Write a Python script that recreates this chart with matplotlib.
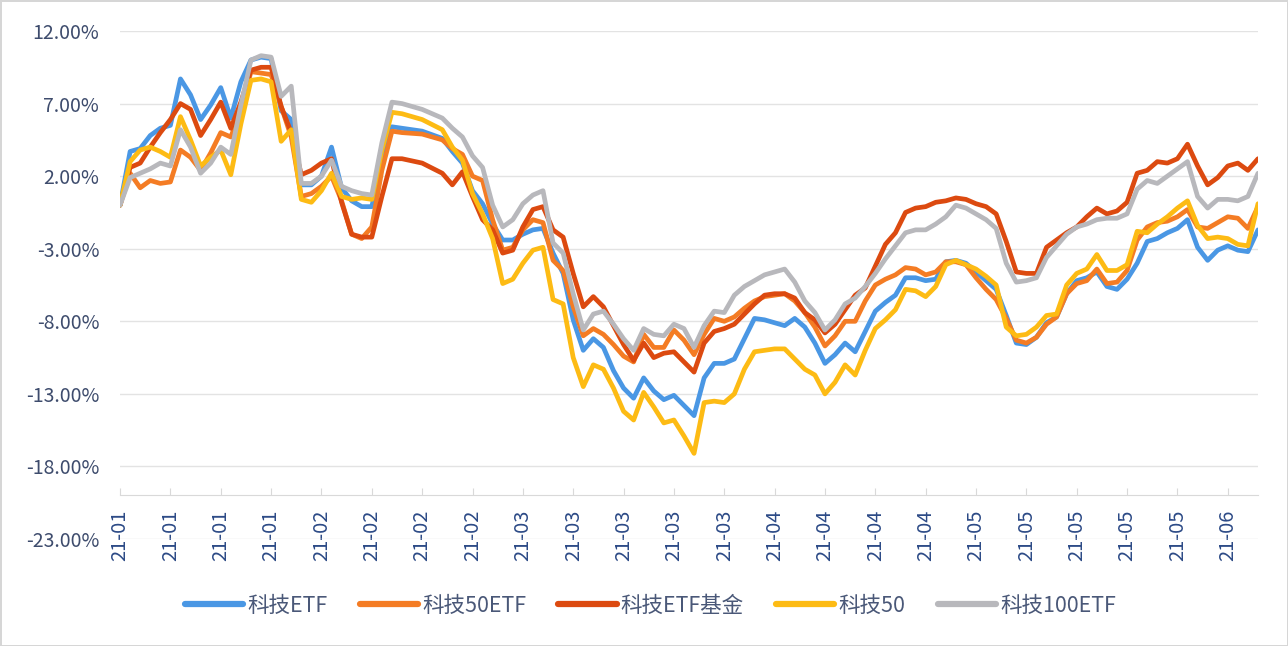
import numpy as np
import matplotlib
matplotlib.use("Agg")
import matplotlib.pyplot as plt

plt.rcParams['font.family'] = ['Noto Sans CJK SC', 'DejaVu Sans']

# trading-day index of each reading
days = list(range(0, 29)) + [30, 32] + list(range(33, 114))

# cumulative return (%)
keji_etf = [0, 3.7, 3.9, 4.8, 5.3, 5.5, 8.7, 7.6, 5.9, 6.9, 8.1, 6.0, 8.5, 10.0, 10.2, 10.1, 6.5, 5.9,
            1.4, 1.4, 2.0, 4.0, 1.2, 0.3, -0.1, -0.1, 2.9, 5.4, 5.3, 5.1, 4.6, 3.7, 2.9, 1.0, 0.1,
            -1.3, -2.4, -2.4, -2.0, -1.7, -1.6, -3.3, -4.7, -7.9, -10.0, -9.2, -9.8, -11.4, -12.6,
            -13.3, -11.9, -12.8, -13.4, -13.1, -13.8, -14.5, -11.9, -10.9, -10.9, -10.6, -9.2, -7.8,
            -7.9, -8.1, -8.3, -7.8, -8.4, -9.5, -10.9, -10.3, -9.5, -10.1, -8.7, -7.3, -6.7, -6.2,
            -5.0, -5.0, -5.2, -5.1, -3.9, -3.8, -4.0, -4.6, -5.2, -5.8, -7.6, -9.5, -9.6, -9.1, -8.1,
            -7.7, -6.1, -5.2, -5.0, -4.6, -5.6, -5.8, -5.1, -4.0, -2.5, -2.3, -1.9, -1.6, -1.0, -2.9,
            -3.8, -3.1, -2.8, -3.1, -3.2, -1.7]
keji50_etf = [0, 2.2, 1.2, 1.7, 1.5, 1.6, 3.8, 3.3, 2.4, 3.6, 5.0, 4.7, 6.5, 9.2, 9.1, 9.0, 6.8, 4.7,
              0.6, 0.8, 1.3, 2.0, 0.3, -2.0, -2.3, -1.5, 2.4, 5.1, 5.0, 4.9, 4.5, 3.9, 3.5, 2.0, 1.7,
              -1.0, -3.1, -2.9, -1.7, -1.0, -1.2, -3.8, -4.5, -7.0, -9.0, -8.5, -8.9, -9.6, -10.4,
              -10.8, -8.9, -9.8, -9.8, -8.6, -9.3, -10.3, -8.9, -7.8, -8.0, -7.7, -7.1, -6.6, -6.3,
              -6.2, -6.1, -6.6, -7.4, -8.4, -9.7, -9.0, -8.0, -8.0, -6.6, -5.5, -5.1, -4.8, -4.3,
              -4.4, -4.8, -4.6, -3.9, -3.9, -4.1, -5.0, -5.8, -6.5, -7.8, -9.3, -9.5, -9.1, -8.2,
              -7.7, -6.1, -5.4, -5.2, -4.4, -5.4, -5.3, -4.5, -2.4, -1.5, -1.2, -1.1, -0.8, -0.3,
              -1.5, -1.6, -1.2, -0.8, -0.9, -1.6, -0.1]
keji_etf_fund = [0, 2.6, 2.9, 4.0, 5.0, 5.9, 7.0, 6.6, 4.8, 5.9, 7.1, 5.3, 7.1, 9.3, 9.5, 9.5, 6.8, 5.0,
                 2.1, 2.4, 2.9, 3.2, 0.2, -2.0, -2.2, -2.2, 0.6, 3.2, 3.2, 2.9, 2.2, 1.4, 2.3, 0.6,
                 -1.0, -1.7, -3.3, -3.1, -1.5, -0.3, -0.1, -1.7, -2.2, -4.7, -7.0, -6.3, -7.0, -8.3,
                 -9.6, -10.7, -9.5, -10.5, -10.2, -10.1, -10.8, -11.5, -9.5, -8.7, -8.5, -8.2, -7.5,
                 -6.8, -6.2, -6.1, -6.1, -6.4, -7.4, -7.9, -8.8, -8.2, -7.2, -6.2, -5.7, -4.2, -2.7,
                 -1.9, -0.5, -0.2, -0.1, 0.2, 0.3, 0.5, 0.4, 0.1, -0.1, -0.6, -2.5, -4.6, -4.7, -4.7,
                 -2.9, -2.4, -1.9, -1.5, -0.8, -0.2, -0.6, -0.4, 0.2, 2.2, 2.4, 3.0, 2.9, 3.2, 4.2,
                 2.7, 1.4, 1.9, 2.7, 2.9, 2.4, 3.2]
keji50 = [0, 3.0, 3.8, 4.0, 3.7, 3.3, 6.1, 4.5, 2.7, 3.3, 3.8, 2.1, 5.6, 8.6, 8.7, 8.5, 4.4, 5.2,
          0.4, 0.2, 1.0, 2.2, 0.6, 0.4, 0.5, 0.4, 3.8, 6.4, 6.3, 5.9, 5.2, 4.0, 3.1, 0.8, -0.6,
          -2.3, -5.4, -5.1, -4.0, -3.1, -2.9, -6.5, -6.8, -10.5, -12.5, -11.0, -11.3, -12.6,
          -14.2, -14.8, -12.9, -13.9, -15.0, -14.8, -15.9, -17.1, -13.6, -13.5, -13.6, -13.0,
          -11.3, -10.1, -10.0, -9.9, -9.9, -10.6, -11.3, -11.7, -13.0, -12.2, -11.0, -11.7, -10.0,
          -8.5, -7.9, -7.2, -5.8, -5.9, -6.3, -5.6, -4.1, -3.8, -4.1, -4.4, -4.9, -5.5, -8.4, -9.0,
          -8.9, -8.4, -7.6, -7.5, -5.5, -4.7, -4.4, -3.4, -4.5, -4.5, -4.1, -1.8, -1.9, -1.3,
          -0.8, -0.2, 0.3, -1.4, -2.3, -2.2, -2.3, -2.7, -2.8, 0.1]
keji100_etf = [0, 1.9, 2.2, 2.5, 2.9, 2.7, 5.2, 4.0, 2.2, 2.9, 4.0, 3.5, 6.9, 10.0, 10.3, 10.2, 7.5, 8.2,
               1.5, 1.5, 2.0, 3.1, 1.3, 1.0, 0.8, 0.7, 4.3, 7.1, 7.0, 6.6, 6.0, 5.3, 4.7, 3.4, 2.6,
               0.0, -1.5, -1.0, 0.1, 0.7, 1.0, -2.6, -3.3, -6.1, -8.6, -7.5, -7.3, -8.2, -9.2, -10.0,
               -8.5, -8.9, -9.0, -8.2, -8.5, -9.8, -8.3, -7.3, -7.4, -6.2, -5.6, -5.2, -4.8, -4.6,
               -4.4, -5.3, -6.6, -7.4, -8.6, -7.9, -6.8, -6.4, -5.6, -4.7, -3.7, -2.8, -1.9, -1.7,
               -1.7, -1.3, -0.8, 0.0, -0.2, -0.6, -1.0, -1.6, -4.0, -5.3, -5.2, -5.0, -3.6, -2.8,
               -2.0, -1.5, -1.3, -1.0, -0.9, -0.9, -0.6, 1.1, 1.7, 1.5, 2.0, 2.5, 3.0, 0.6, -0.2,
               0.4, 0.4, 0.3, 0.6, 2.2]

series_names = ['科技ETF', '科技50ETF', '科技ETF基金', '科技50', '科技100ETF']
series_colors = ['#4A97E4', '#F47C24', '#DC4A10', '#FDBB14', '#B8B8BC']

tick_days = list(range(0, 111, 5))
tick_labels = ['21-01'] * 4 + ['21-02'] * 4 + ['21-03'] * 5 + ['21-04'] * 4 + ['21-05'] * 5 + ['21-06']

y_ticks = list(range(-23, 13, 5))

fig = plt.figure(figsize=(12.88, 6.46), dpi=100)
fig.patch.set_edgecolor('#D6D6D6')
fig.patch.set_linewidth(2)
ax = fig.add_axes([0.0932, 0.1656, 0.8835, 0.7864])

for vals, name, col in zip([keji_etf, keji50_etf, keji_etf_fund, keji50, keji100_etf],
                           series_names, series_colors):
    ax.plot(days, vals, color=col, lw=3.4, label=name,
            solid_joinstyle='round', solid_capstyle='round')

ax.set_xlim(0, 113)
ax.set_ylim(-23, 12)
ax.set_yticks(y_ticks)
ax.set_yticklabels([f'{v:.2f}%' for v in y_ticks])
ax.set_xticks(tick_days)
ax.set_xticklabels(tick_labels)

ax.grid(axis='y', color='#E3E3E3', lw=1)
ax.set_axisbelow(True)
for s in ['left', 'right', 'top']:
    ax.spines[s].set_visible(False)
ax.spines['bottom'].set_position(('data', -20))
ax.spines['bottom'].set_color('#D9D9D9')

ax.tick_params(axis='y', length=0, pad=15, labelsize=14, labelcolor='#3E4C6D')
ax.tick_params(axis='x', length=5, direction='in', color='#D9D9D9', pad=10,
               labelsize=14.5, labelcolor='#2C4A86', labelrotation=90)

leg = fig.legend(loc='center', bbox_to_anchor=(0.505, 0.062), ncol=5, frameon=False,
                 fontsize=15.5, handlelength=2.7, columnspacing=1.5, handletextpad=0.2,
                 labelcolor='#4A5878')
for line in leg.get_lines():
    line.set_linewidth(4.5)

fig.savefig('out.png', dpi=100)
